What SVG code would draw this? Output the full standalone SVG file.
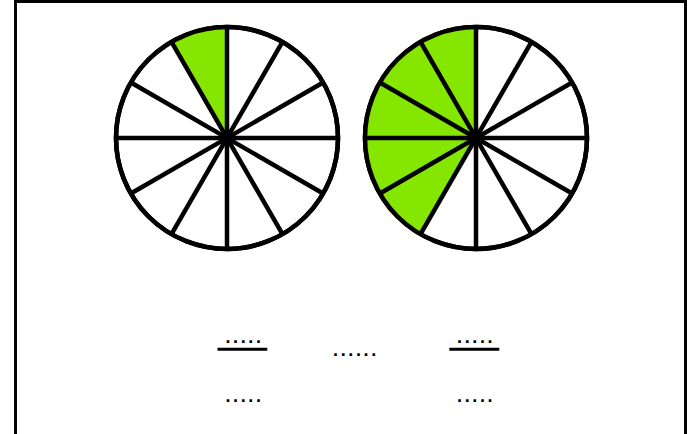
<svg xmlns="http://www.w3.org/2000/svg" width="696" height="434" viewBox="0 0 696 434">
<style>
.frame{fill:#fff;stroke:#000;stroke-width:3}
.disc{fill:#fff;stroke:#000;stroke-width:4.5}
.green{fill:#85e600;stroke:none}
.spoke{stroke:#000;stroke-width:4.5;stroke-linecap:butt}
.dots{font-family:"Liberation Sans",Arial,sans-serif;font-size:18px;font-weight:bold;letter-spacing:2.65px;fill:#000}
.bar{stroke:#000;stroke-width:3}
</style>
<defs>
<g id="spokes">
<line class="spoke" x1="-111" y1="0" x2="111" y2="0"/>
<line class="spoke" x1="-111" y1="0" x2="111" y2="0" transform="rotate(30)"/>
<line class="spoke" x1="-111" y1="0" x2="111" y2="0" transform="rotate(60)"/>
<line class="spoke" x1="-111" y1="0" x2="111" y2="0" transform="rotate(90)"/>
<line class="spoke" x1="-111" y1="0" x2="111" y2="0" transform="rotate(120)"/>
<line class="spoke" x1="-111" y1="0" x2="111" y2="0" transform="rotate(150)"/>
</g>
</defs>
<rect class="frame" x="15.5" y="1.5" width="670" height="434"/>
<g id="circle-left">
<circle class="disc" cx="227" cy="138" r="111"/>
<path class="green" d="M227,138 L227,27 A111,111 0 0 0 171.5,41.87 Z"/>
<use href="#spokes" transform="translate(227,138)"/>
<circle cx="227" cy="138" r="4" fill="#000"/>
<circle cx="227" cy="138" r="111" fill="none" stroke="#000" stroke-width="4.5"/>
</g>
<g id="circle-right">
<circle class="disc" cx="476" cy="138" r="111"/>
<path class="green" d="M476,138 L476,27 A111,111 0 0 0 420.5,234.13 Z"/>
<use href="#spokes" transform="translate(476,138)"/>
<circle cx="476" cy="138" r="4" fill="#000"/>
<circle cx="476" cy="138" r="111" fill="none" stroke="#000" stroke-width="4.5"/>
</g>
<g id="fraction-left">
<text class="dots" x="225.4" y="342.5">.....</text>
<line class="bar" x1="217.5" y1="349.3" x2="267.3" y2="349.3"/>
<text class="dots" x="225.4" y="402">.....</text>
</g>
<g id="compare">
<text class="dots" x="333" y="356">......</text>
</g>
<g id="fraction-right">
<text class="dots" x="457" y="342.5">.....</text>
<line class="bar" x1="449.3" y1="349.3" x2="499.3" y2="349.3"/>
<text class="dots" x="457" y="402">.....</text>
</g>
</svg>
